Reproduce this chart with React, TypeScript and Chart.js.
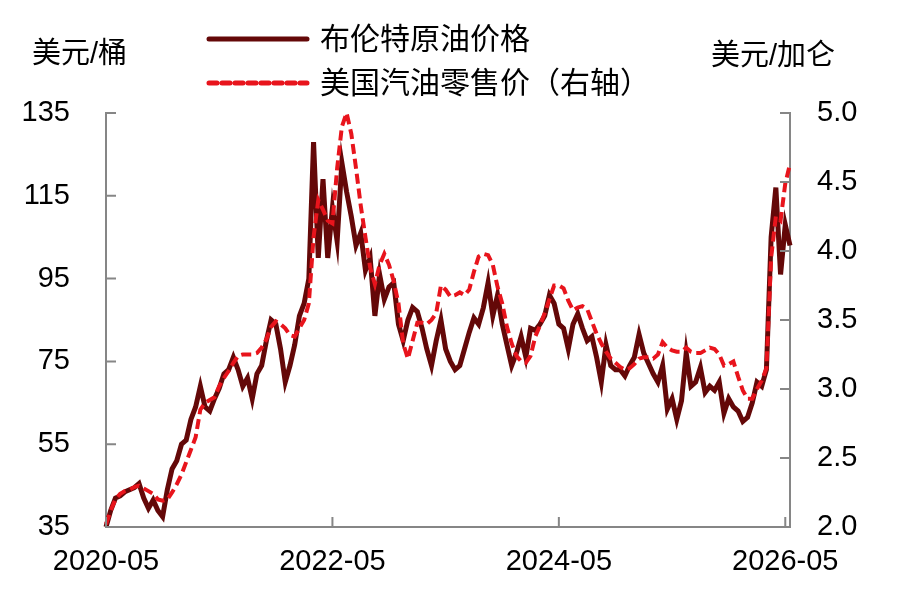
import { Chart, type ChartConfiguration, type Plugin, registerables } from "chart.js";
import { useEffect, useRef } from "react";

Chart.register(...registerables);

// half-month steps starting 2020-05
const monthStep = 0.5;

const brentPrices = [
  35, 39, 42, 42.5, 43.5, 44, 44.5, 45.5, 42, 39.5,
  41.5, 39, 37.5, 44, 49, 51, 55, 56, 61, 64,
  69, 64, 63, 66, 68.5, 72, 73, 76, 73, 69,
  71, 66, 72, 74, 80, 85, 84, 78, 70, 74,
  79, 86, 89, 95, 128, 100, 119, 100, 112, 104,
  123, 116, 110, 103, 106, 97, 100, 86, 96, 90,
  93, 94, 84, 80, 85, 88, 87, 83, 78, 74,
  80, 85, 78, 75, 73, 74, 78, 82, 85.5, 84,
  88, 94, 86, 91, 84, 79, 74, 77, 81, 76,
  83, 82.5, 84, 86, 91, 89, 84, 83, 78, 84,
  86.5, 83, 80, 81, 76, 70, 79, 74, 73, 73,
  71.5, 74, 76, 81.5, 77, 74.5, 72, 70, 74, 63.5,
  66, 61, 65.5, 77, 69, 70, 73.5, 67.5, 69, 68,
  70, 62.5, 66, 64, 63, 60.5, 61.5, 65, 70, 69,
  73, 105, 117, 96, 108, 103,
];

const gasolinePrices = [
  2.02, 2.12, 2.2, 2.24, 2.26, 2.27, 2.29, 2.3, 2.28, 2.26,
  2.24, 2.2, 2.19, 2.2, 2.25, 2.31, 2.38, 2.47, 2.56, 2.65,
  2.85, 2.9, 2.92, 2.94, 3.02, 3.08, 3.13, 3.19, 3.24, 3.25,
  3.25, 3.25, 3.26, 3.3, 3.36, 3.45, 3.49, 3.47, 3.44, 3.39,
  3.38, 3.44, 3.5, 3.62, 4.1, 4.37, 4.3, 4.22, 4.2, 4.6,
  4.9, 5.0, 4.85, 4.6, 4.33, 4.1, 3.88, 3.76, 3.9, 3.98,
  3.9, 3.78, 3.62, 3.33, 3.22, 3.35, 3.48, 3.48, 3.47, 3.5,
  3.55, 3.75, 3.72, 3.67, 3.68, 3.7, 3.68, 3.72, 3.85, 3.96,
  3.98, 3.97, 3.9, 3.74, 3.62, 3.45, 3.33, 3.24, 3.2, 3.19,
  3.24, 3.38, 3.46, 3.55, 3.65, 3.75, 3.75, 3.73, 3.64, 3.57,
  3.59, 3.6, 3.58, 3.49, 3.4, 3.33, 3.27, 3.22, 3.19, 3.16,
  3.14, 3.15, 3.18, 3.22, 3.23, 3.23, 3.22, 3.25, 3.34, 3.3,
  3.28, 3.27, 3.27, 3.3, 3.27, 3.26, 3.26, 3.28, 3.3, 3.29,
  3.25, 3.17, 3.18, 3.2, 3.09, 2.99, 2.93, 2.93, 3.0, 3.06,
  3.15, 3.95, 4.25, 4.22, 4.49, 4.63,
];

const xTickMonths = [0, 24, 48, 72];
const xTickLabels = ["2020-05", "2022-05", "2024-05", "2026-05"];

const seriesNames = ["布伦特原油价格", "美国汽油零售价（右轴）"];
const leftUnit = "美元/桶";
const rightUnit = "美元/加仑";

const brentColor = "#640808";
const gasColor = "#e8141c";
const axisColor = "#868686";
const fontFamily = "'Liberation Sans', Arial, 'Noto Sans CJK SC', sans-serif";

const toPoints = (values: number[]) =>
  values.map((y, i) => ({ x: i * monthStep, y }));

const inwardTicks: Plugin = {
  id: "inwardTicks",
  afterDraw(chart) {
    const { ctx, chartArea, scales } = chart;
    const len = 10;
    ctx.save();
    ctx.strokeStyle = axisColor;
    ctx.lineWidth = 2;
    ctx.beginPath();
    for (const t of scales.y.ticks) {
      const py = scales.y.getPixelForValue(t.value);
      ctx.moveTo(chartArea.left, py);
      ctx.lineTo(chartArea.left + len, py);
    }
    for (const t of scales.y2.ticks) {
      const py = scales.y2.getPixelForValue(t.value);
      ctx.moveTo(chartArea.right, py);
      ctx.lineTo(chartArea.right - len, py);
    }
    for (const t of scales.x.ticks) {
      const px = scales.x.getPixelForValue(t.value);
      ctx.moveTo(px, chartArea.bottom);
      ctx.lineTo(px, chartArea.bottom - len);
    }
    ctx.stroke();
    ctx.restore();
  },
};

function getConfig(): ChartConfiguration<"line"> {
  const tickFont = { family: fontFamily, size: 29 };
  return {
    type: "line",
    data: {
      datasets: [
        {
          label: seriesNames[1],
          data: toPoints(gasolinePrices),
          yAxisID: "y2",
          borderColor: gasColor,
          borderWidth: 4,
          borderDash: [10, 5],
          pointRadius: 0,
          tension: 0,
          order: 0,
          clip: false,
        },
        {
          label: seriesNames[0],
          data: toPoints(brentPrices),
          yAxisID: "y",
          borderColor: brentColor,
          borderWidth: 5,
          pointRadius: 0,
          tension: 0,
          order: 1,
          clip: false,
        },
      ],
    },
    options: {
      animation: false,
      responsive: true,
      maintainAspectRatio: false,
      layout: { padding: { top: 113, left: 0, right: 0, bottom: 0 } },
      plugins: { legend: { display: false }, tooltip: { enabled: false } },
      scales: {
        x: {
          type: "linear",
          min: 0,
          max: 72.5,
          afterBuildTicks(scale) {
            scale.ticks = xTickMonths.map((value) => ({ value }));
          },
          afterFit(scale) {
            scale.height = 71;
          },
          border: { display: true, color: axisColor, width: 2 },
          grid: { drawOnChartArea: false, drawTicks: false },
          ticks: {
            autoSkip: false,
            maxRotation: 0,
            padding: 18,
            color: "#000",
            font: tickFont,
            callback(value) {
              const i = xTickMonths.indexOf(Number(value));
              return i >= 0 ? xTickLabels[i] : "";
            },
          },
        },
        y: {
          position: "left",
          min: 35,
          max: 135,
          afterFit(scale) {
            scale.width = 106;
          },
          border: { display: true, color: axisColor, width: 2 },
          grid: { drawOnChartArea: false, drawTicks: false },
          ticks: { stepSize: 20, padding: 36, color: "#000", font: tickFont },
        },
        y2: {
          position: "right",
          min: 2,
          max: 5,
          afterFit(scale) {
            scale.width = 110;
          },
          border: { display: true, color: axisColor, width: 2 },
          grid: { drawOnChartArea: false, drawTicks: false },
          ticks: {
            stepSize: 0.5,
            padding: 27,
            color: "#000",
            font: tickFont,
            callback(value) {
              return Number(value).toFixed(1);
            },
          },
        },
      },
    },
    plugins: [inwardTicks],
  };
}

function LegendRow({ dashed, text, top }: { dashed: boolean; text: string; top: number }) {
  return (
    <div style={{ position: "absolute", left: 206, top, height: 32, display: "flex", alignItems: "center" }}>
      <svg width={104} height={8} style={{ marginRight: 10 }}>
        <line
          x1={3}
          y1={4}
          x2={101}
          y2={4}
          stroke={dashed ? gasColor : brentColor}
          strokeWidth={5}
          strokeDasharray={dashed ? "8 5" : undefined}
          strokeLinecap="round"
        />
      </svg>
      <span style={{ fontSize: 30, lineHeight: "32px", whiteSpace: "nowrap" }}>{text}</span>
    </div>
  );
}

export default function App() {
  const canvasRef = useRef<HTMLCanvasElement>(null);

  useEffect(() => {
    if (!canvasRef.current) {
      return;
    }
    const chart = new Chart(canvasRef.current, getConfig());
    return () => {
      chart.destroy();
    };
  }, []);

  return (
    <div
      style={{
        position: "absolute",
        left: 0,
        top: 0,
        width: 900,
        height: 598,
        background: "#fff",
        fontFamily,
        color: "#000",
      }}
    >
      <div style={{ position: "absolute", inset: 0 }}>
        <canvas ref={canvasRef} />
      </div>
      <div style={{ position: "absolute", left: 32, top: 37, fontSize: 29, lineHeight: "32px", whiteSpace: "nowrap" }}>
        {leftUnit}
      </div>
      <div style={{ position: "absolute", left: 711, top: 39, fontSize: 29, lineHeight: "32px", whiteSpace: "nowrap" }}>
        {rightUnit}
      </div>
      <LegendRow dashed={false} text={seriesNames[0]} top={23} />
      <LegendRow dashed={true} text={seriesNames[1]} top={67} />
    </div>
  );
}
